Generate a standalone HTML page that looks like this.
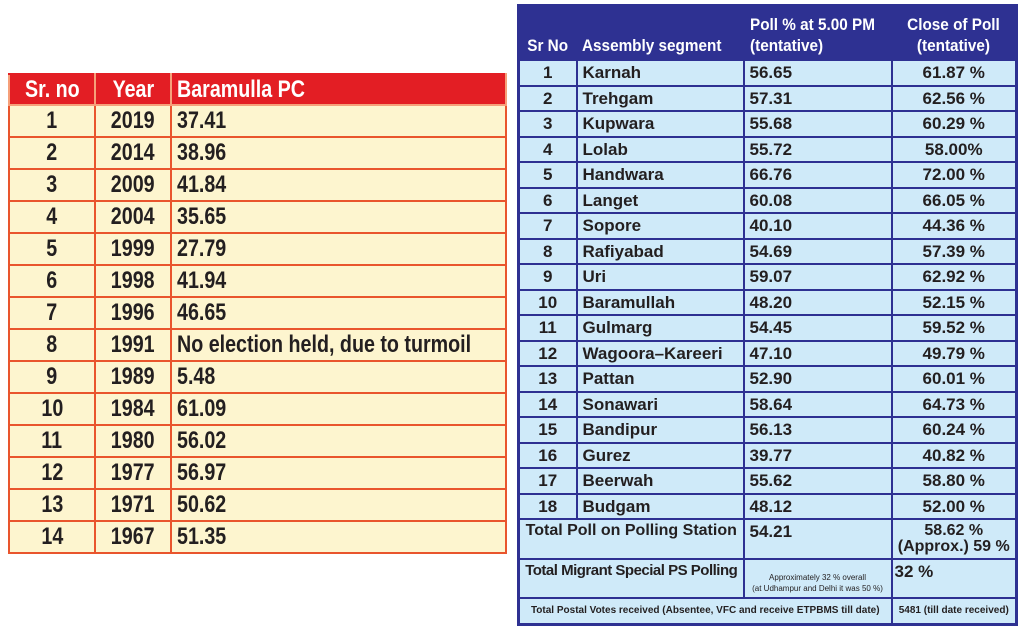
<!DOCTYPE html>
<html><head><meta charset="utf-8"><style>
body{margin:0;width:1024px;height:628px;background:#fff;position:relative;overflow:hidden;font-family:"Liberation Sans",Arial,sans-serif;font-weight:bold;color:#231f20}
table{position:absolute;border-collapse:collapse;table-layout:fixed}
td{padding:0 0 0 5px;white-space:nowrap;overflow:hidden;line-height:1}
#L{left:8px;top:73px;width:497px;background:#fdf5cf;font-size:24px}
#L td{border:2px solid #e9552d;height:30px}
#L tr.h td{background:#e31e24;color:#fff;border-color:#f6a07a;height:29px;border-top-color:#e31e24}
#L td.c{text-align:center;padding:0}
#L span{display:inline-block;transform:scaleX(0.82);transform-origin:left center}
#L td.c span{transform-origin:center center}
#R{left:517px;top:4px;width:498px;background:#cfeaf9;font-size:17px;border:3px solid #2e3192}
#R td{border:2px solid #2e3192;height:23.5px}
#R tr.h td{background:#2e3192;color:#fff;height:49px;vertical-align:bottom;padding-bottom:3px;line-height:1.2}
#R td.c{text-align:center;padding:0}
#R span{display:inline-block;transform:scaleX(0.9);transform-origin:left center}
#R td.c span{transform-origin:center center}
</style></head><body>
<table id="L">
<colgroup><col style="width:86px"><col style="width:76px"><col style="width:335px"></colgroup>
<tr class="h"><td class="c"><span>Sr. no</span></td><td class="c"><span>Year</span></td><td><span>Baramulla PC</span></td></tr>
<tr><td class="c"><span>1</span></td><td class="c"><span>2019</span></td><td><span>37.41</span></td></tr>
<tr><td class="c"><span>2</span></td><td class="c"><span>2014</span></td><td><span>38.96</span></td></tr>
<tr><td class="c"><span>3</span></td><td class="c"><span>2009</span></td><td><span>41.84</span></td></tr>
<tr><td class="c"><span>4</span></td><td class="c"><span>2004</span></td><td><span>35.65</span></td></tr>
<tr><td class="c"><span>5</span></td><td class="c"><span>1999</span></td><td><span>27.79</span></td></tr>
<tr><td class="c"><span>6</span></td><td class="c"><span>1998</span></td><td><span>41.94</span></td></tr>
<tr><td class="c"><span>7</span></td><td class="c"><span>1996</span></td><td><span>46.65</span></td></tr>
<tr><td class="c"><span>8</span></td><td class="c"><span>1991</span></td><td><span>No election held, due to turmoil</span></td></tr>
<tr><td class="c"><span>9</span></td><td class="c"><span>1989</span></td><td><span>5.48</span></td></tr>
<tr><td class="c"><span>10</span></td><td class="c"><span>1984</span></td><td><span>61.09</span></td></tr>
<tr><td class="c"><span>11</span></td><td class="c"><span>1980</span></td><td><span>56.02</span></td></tr>
<tr><td class="c"><span>12</span></td><td class="c"><span>1977</span></td><td><span>56.97</span></td></tr>
<tr><td class="c"><span>13</span></td><td class="c"><span>1971</span></td><td><span>50.62</span></td></tr>
<tr><td class="c"><span>14</span></td><td class="c"><span>1967</span></td><td><span>51.35</span></td></tr>
</table>
<table id="R">
<colgroup><col style="width:58px"><col style="width:167px"><col style="width:148px"><col style="width:125px"></colgroup>
<tr class="h"><td class="c" style="border-right-color:#2e3192"><span>Sr No</span></td><td style="padding-left:4px"><span>Assembly segment</span></td><td style="padding-left:5px"><span>Poll % at 5.00 PM<br>(tentative)</span></td><td class="c"><span>Close of Poll<br>(tentative)</span></td></tr>
<tr><td class="c">1</td><td>Karnah</td><td>56.65</td><td class="c">61.87 %</td></tr>
<tr><td class="c">2</td><td>Trehgam</td><td>57.31</td><td class="c">62.56 %</td></tr>
<tr><td class="c">3</td><td>Kupwara</td><td>55.68</td><td class="c">60.29 %</td></tr>
<tr><td class="c">4</td><td>Lolab</td><td>55.72</td><td class="c">58.00%</td></tr>
<tr><td class="c">5</td><td>Handwara</td><td>66.76</td><td class="c">72.00 %</td></tr>
<tr><td class="c">6</td><td>Langet</td><td>60.08</td><td class="c">66.05 %</td></tr>
<tr><td class="c">7</td><td>Sopore</td><td>40.10</td><td class="c">44.36 %</td></tr>
<tr><td class="c">8</td><td>Rafiyabad</td><td>54.69</td><td class="c">57.39 %</td></tr>
<tr><td class="c">9</td><td>Uri</td><td>59.07</td><td class="c">62.92 %</td></tr>
<tr><td class="c">10</td><td>Baramullah</td><td>48.20</td><td class="c">52.15 %</td></tr>
<tr><td class="c">11</td><td>Gulmarg</td><td>54.45</td><td class="c">59.52 %</td></tr>
<tr><td class="c">12</td><td>Wagoora–Kareeri</td><td>47.10</td><td class="c">49.79 %</td></tr>
<tr><td class="c">13</td><td>Pattan</td><td>52.90</td><td class="c">60.01 %</td></tr>
<tr><td class="c">14</td><td>Sonawari</td><td>58.64</td><td class="c">64.73 %</td></tr>
<tr><td class="c">15</td><td>Bandipur</td><td>56.13</td><td class="c">60.24 %</td></tr>
<tr><td class="c">16</td><td>Gurez</td><td>39.77</td><td class="c">40.82 %</td></tr>
<tr><td class="c">17</td><td>Beerwah</td><td>55.62</td><td class="c">58.80 %</td></tr>
<tr><td class="c">18</td><td>Budgam</td><td>48.12</td><td class="c">52.00 %</td></tr>
<tr><td colspan="2" class="c" style="height:35px;vertical-align:top;padding-top:3px;font-size:16px">Total Poll on Polling Station</td><td style="vertical-align:top;padding-top:3px">54.21</td><td class="c" style="vertical-align:top;padding-top:3px;line-height:1;font-size:16px">58.62 %<br>(Approx.) 59 %</td></tr>
<tr><td colspan="2" class="c" style="height:34px;vertical-align:top;padding-top:3px;font-size:15px;letter-spacing:-0.5px">Total Migrant Special PS Polling</td><td class="c" style="font-size:8px;font-weight:normal;line-height:1.3;vertical-align:bottom;padding-bottom:3px">Approximately 32 % overall<br>(at Udhampur and Delhi it was 50 %)</td><td style="vertical-align:top;padding-top:3px;padding-left:2px">32 %</td></tr>
<tr><td colspan="3" class="c" style="height:21px;font-size:10px">Total Postal Votes received (Absentee, VFC and receive ETPBMS till date)</td><td class="c" style="font-size:10px">5481 (till date received)</td></tr>
</table>
</body></html>
